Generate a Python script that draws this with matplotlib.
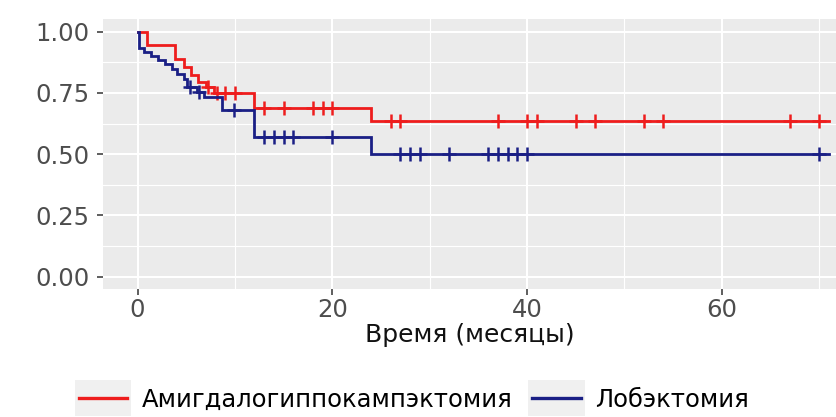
import numpy as np
import matplotlib
matplotlib.use('Agg')
import matplotlib.pyplot as plt
from matplotlib.patches import Rectangle
from matplotlib.ticker import MultipleLocator

# Kaplan-Meier steps: time of each drop (months) and survival after it
red_t = [0, 1.0, 3.8, 4.8, 5.5, 6.2, 7.0, 7.8, 12.0, 24.0]
red_s = [1.0, 0.944, 0.889, 0.856, 0.822, 0.795, 0.774, 0.751, 0.690, 0.635]
red_cens = [7.2, 8.2, 9.0, 10.0, 13.0, 15.0, 18.0, 19.0, 20.0, 26.0, 27.0, 37.0,
            40.0, 41.0, 45.0, 47.0, 52.0, 54.0, 67.0, 70.0]

blue_t = [0, 0.1, 0.7, 1.4, 2.1, 2.8, 3.5, 4.1, 4.8, 5.1, 6.1, 6.8, 8.7, 12.0, 24.0]
blue_s = [1.0, 0.933, 0.918, 0.902, 0.886, 0.866, 0.848, 0.828, 0.806, 0.773,
          0.752, 0.733, 0.680, 0.572, 0.500]
blue_cens = [5.4, 6.3, 9.9, 13.0, 14.0, 15.0, 16.0, 20.0, 27.0, 28.0, 29.0,
             32.0, 36.0, 37.0, 38.0, 39.0, 40.0, 70.0]

t_end = 71.0
labels = ['Амигдалогиппокампэктомия', 'Лобэктомия']
colors = ['#EE1D1D', '#1A1F85']


def surv_at(times, ts, ss):
    """Survival value of the step curve at the given times"""
    idx = np.searchsorted(ts, times, side='right') - 1
    return np.asarray(ss)[idx]


plt.rcParams['font.family'] = ['DejaVu Sans']
fig = plt.figure(figsize=(8.37, 4.17), dpi=100)
ax = fig.add_axes([103/837, 1-289/417, 1-103/837, (289-19.4)/417])
ax.set_facecolor('#EBEBEB')

handles = []
for ts, ss, cens, col in [(red_t, red_s, red_cens, colors[0]),
                          (blue_t, blue_s, blue_cens, colors[1])]:
    x = list(ts) + [t_end]
    y = list(ss) + [ss[-1]]
    h, = ax.step(x, y, where='post', color=col, linewidth=2.0, solid_joinstyle='miter')
    ax.plot(cens, surv_at(cens, ts, ss), '+', color=col, markersize=10, markeredgewidth=1.8)
    handles.append(h)

ax.set_xlim(-3.55, 71.84)
ax.set_ylim(-0.05, 1.05)
ax.set_xticks([0, 20, 40, 60])
ax.set_yticks([0, 0.25, 0.5, 0.75, 1.0])
ax.set_yticklabels(['0.00', '0.25', '0.50', '0.75', '1.00'])
ax.xaxis.set_minor_locator(MultipleLocator(10))
ax.yaxis.set_minor_locator(MultipleLocator(0.125))
ax.grid(which='major', color='white', linewidth=1.5)
ax.grid(which='minor', color='white', linewidth=0.8)
ax.set_axisbelow(True)
for s in ax.spines.values():
    s.set_visible(False)
ax.tick_params(which='major', length=4.5, width=1.1, color='#333333',
               labelcolor='#4D4D4D', labelsize=17.5)
ax.tick_params(axis='y', pad=5)
ax.tick_params(axis='x', pad=2)
ax.tick_params(which='minor', length=0)
ax.set_xlabel('Время (месяцы)', fontsize=18, color='#111111', labelpad=1)

leg = fig.legend(handles, labels, loc='center', bbox_to_anchor=(414/837, 1-400/417),
                 ncol=2, frameon=False, fontsize=17.5, handlelength=2.0,
                 handletextpad=0.6, columnspacing=0.8)
for line in leg.get_lines():
    line.set_linewidth(2.4)

# light grey key backgrounds behind the legend lines
fig.canvas.draw()
renderer = fig.canvas.get_renderer()
inv = fig.transFigure.inverted()
for line in leg.get_lines():
    bb = line.get_window_extent(renderer)
    yc = (bb.y0 + bb.y1) / 2
    (x0, y0), (x1, y1) = inv.transform([(bb.x0 - 4, yc - 18), (bb.x1 + 4, yc + 18)])
    fig.add_artist(Rectangle((x0, y0), x1 - x0, y1 - y0, transform=fig.transFigure,
                             facecolor='#F0F0F0', edgecolor='none', zorder=0))

fig.savefig('out.png', dpi=100)
